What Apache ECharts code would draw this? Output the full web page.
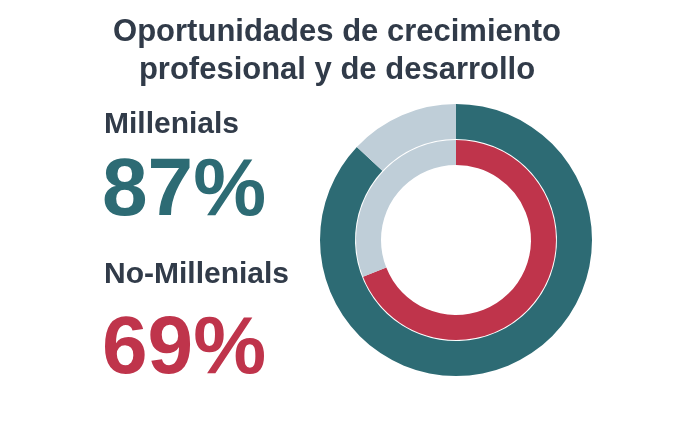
<!DOCTYPE html>
<html>
<head>
<meta charset="utf-8">
<script src="https://cdn.jsdelivr.net/npm/echarts@6/dist/echarts.min.js"></script>
<style>
html,body{margin:0;padding:0;background:#fff;}
#chart{width:684px;height:425px;}
</style>
</head>
<body>
<div id="chart"></div>
<script>
var titleLines = ['Oportunidades de crecimiento', 'profesional y de desarrollo'];
var groups = ['Millenials', 'No-Millenials'];
var values = [87, 69];
var groupColors = ['#2D6B74', '#BF344B'];
var restColor = '#BFCED8';
var textColor = '#313B49';
var FONT = '"Liberation Sans", Arial, Helvetica, sans-serif';

var chart = echarts.init(document.getElementById('chart'), null, {renderer: 'canvas'});

function ring(i, radius) {
  return {
    type: 'pie',
    radius: radius,
    center: [456, 240],
    startAngle: 90,
    clockwise: true,
    silent: true,
    label: {show: false},
    labelLine: {show: false},
    emphasis: {disabled: true},
    animation: false,
    data: [
      {name: groups[i], value: values[i], itemStyle: {color: groupColors[i]}},
      {name: 'rest', value: 100 - values[i], itemStyle: {color: restColor}}
    ]
  };
}

var graphics = [];
titleLines.forEach(function (t, k) {
  graphics.push({
    type: 'text', x: 337, y: 32 + k * 38,
    style: {text: t, fill: textColor, font: 'bold 31px ' + FONT, textAlign: 'center', textVerticalAlign: 'middle'}
  });
});
var labelY = [125, 275];
var valueY = [192, 350];
groups.forEach(function (g, i) {
  graphics.push({
    type: 'text', x: 104, y: labelY[i],
    style: {text: g, fill: textColor, font: 'bold 30px ' + FONT, textAlign: 'left', textVerticalAlign: 'middle'}
  });
  graphics.push({
    type: 'text', x: 102, y: valueY[i],
    style: {text: values[i] + '%', fill: groupColors[i], font: 'bold 82px ' + FONT, textAlign: 'left', textVerticalAlign: 'middle'}
  });
});

chart.setOption({
  animation: false,
  series: [ring(0, [101, 136]), ring(1, [75, 100])],
  graphic: graphics
});
</script>
</body>
</html>
